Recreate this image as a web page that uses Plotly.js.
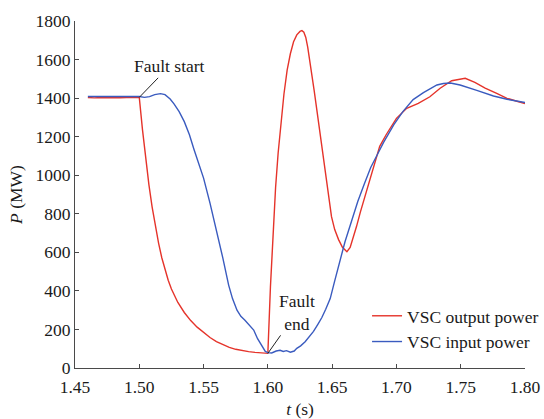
<!DOCTYPE html>
<html>
<head>
<meta charset="utf-8">
<script src="https://cdn.plot.ly/plotly-3.0.1.min.js"></script>
<style>
  html, body { margin: 0; padding: 0; background: #fff; }
  #chart { width: 544px; height: 419px; }
</style>
</head>
<body>
<div id="chart"></div>
<script>
// VSC output power (red), time in s and power in MW
const tOut = [1.460,1.465,1.470,1.475,1.480,1.485,1.490,1.495,1.500,
  1.5025,1.505,1.5075,1.510,1.5125,1.515,1.5175,1.520,1.5225,1.525,1.5275,1.530,
  1.535,1.540,1.545,1.550,1.555,1.560,1.565,1.570,1.575,1.580,1.585,1.590,1.595,1.600,
  1.602,1.604,1.606,1.608,1.610,1.6125,1.615,1.6175,1.620,1.6225,1.625,1.6265,
  1.628,1.6295,1.631,1.633,1.636,1.639,1.642,1.6445,1.647,1.6495,1.652,1.655,1.658,1.6615,
  1.664,1.6665,1.669,1.672,1.676,1.6795,1.683,1.687,1.692,1.700,
  1.708,1.717,1.726,1.734,1.743,1.7535,1.761,1.769,1.778,1.786,1.793,1.800];
const pOut = [1403,1401,1403,1402,1404,1402,1403,1403,1404,
  1235,1085,950,835,735,648,572,508,455,410,372,340,
  288,246,212,183,158,137,120,107,97,90,85,81,78,76,
  420,710,935,1115,1265,1420,1545,1630,1692,1728,1746,1750,
  1742,1715,1665,1580,1440,1295,1155,1035,905,785,718,666,626,603,
  625,675,735,810,900,975,1060,1150,1210,1295,
  1347,1373,1407,1451,1490,1503,1482,1452,1425,1399,1385,1372];

// VSC input power (blue)
const tIn = [1.460,1.470,1.480,1.490,1.500,
  1.504,1.508,1.512,1.5165,1.520,1.524,1.527,1.531,1.535,1.539,
  1.5425,1.546,1.550,1.555,1.560,1.565,1.5695,1.5725,1.576,1.579,
  1.582,1.5855,1.589,1.592,1.5955,1.598,1.600,
  1.603,1.6065,1.6095,1.612,1.6145,1.6175,1.6205,1.6225,1.6255,1.629,
  1.632,1.6355,1.639,1.642,1.645,1.6485,1.652,1.656,1.660,1.665,
  1.670,1.675,1.680,1.685,1.690,1.698,1.705,1.713,1.721,1.7315,
  1.7365,1.742,1.7495,1.7625,1.7755,1.786,1.793,1.800];
const pIn = [1408,1408,1408,1408,1408,
  1404,1408,1418,1423,1418,1395,1370,1330,1278,1210,
  1135,1060,985,855,715,570,430,360,300,268,
  249,224,197,152,110,86,80,
  78,88,92,86,90,82,88,102,115,136,
  160,190,228,262,305,360,452,560,655,760,
  865,955,1040,1105,1170,1262,1330,1392,1428,1468,
  1476,1478,1468,1440,1411,1394,1385,1377];

const xTicks = [1.45,1.50,1.55,1.60,1.65,1.70,1.75,1.80];
const yTicks = [0,200,400,600,800,1000,1200,1400,1600,1800];

const seriesNames = ['VSC output power', 'VSC input power'];
const seriesColors = ['#e5332a', '#3a5bbf'];

// Events marked on the curves: [t, P, label, dx, dy]
const events = [
  [1.50, 1404, 'Fault start', 30, -31],
  [1.60, 76, 'Fault<br>end', 29, -41]
];

const font = { family: '"Liberation Serif", "Times New Roman", serif', size: 17.5, color: '#1a1a1a' };
const axisColor = '#4a4a4a';

const traces = [
  { x: tOut, y: pOut, name: seriesNames[0], mode: 'lines', line: { color: seriesColors[0], width: 1.4 } },
  { x: tIn, y: pIn, name: seriesNames[1], mode: 'lines', line: { color: seriesColors[1], width: 1.4 } }
];

const layout = {
  width: 544, height: 419,
  margin: { l: 75, r: 19, t: 21, b: 51, autoexpand: false },
  paper_bgcolor: '#fff', plot_bgcolor: '#fff',
  font: font,
  showlegend: true,
  legend: {
    x: 0.649, y: 0.202, xanchor: 'left', yanchor: 'top',
    bgcolor: 'rgba(0,0,0,0)', font: font,
    tracegroupgap: 0, itemwidth: 30
  },
  xaxis: {
    range: [1.45, 1.80], tickvals: xTicks, ticktext: xTicks.map(v => v.toFixed(2)),
    ticks: 'inside', ticklen: 4, tickcolor: axisColor, tickwidth: 1, ticklabelstandoff: 3,
    showline: true, linecolor: axisColor, linewidth: 1,
    showgrid: false, zeroline: false, automargin: false,
    title: { text: '<i>t</i> (s)', font: font, standoff: 6 }
  },
  yaxis: {
    range: [0, 1800], tickvals: yTicks, ticktext: yTicks.map(String),
    ticks: 'inside', ticklen: 4, tickcolor: axisColor, tickwidth: 1,
    showline: true, linecolor: axisColor, linewidth: 1,
    showgrid: false, zeroline: false, automargin: false,
    title: { text: '<i>P</i> (MW)', font: font, standoff: 8 }
  },
  annotations: events.map(([t, p, label, dx, dy]) => ({
    x: t, y: p, xref: 'x', yref: 'y', text: label,
    showarrow: true, arrowhead: 0, arrowwidth: 1, arrowcolor: '#222',
    ax: dx, ay: dy, standoff: 0, font: font, align: 'center'
  }))
};

Plotly.newPlot('chart', traces, layout, { displayModeBar: false, staticPlot: true });
</script>
</body>
</html>
